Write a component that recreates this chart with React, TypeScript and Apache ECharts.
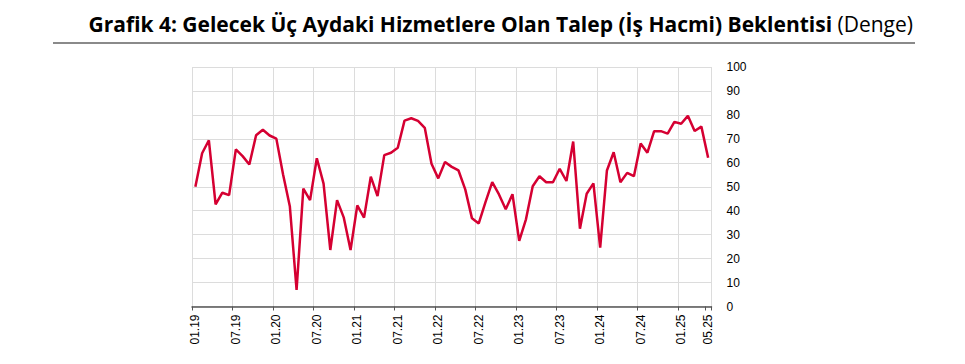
import React, { useEffect, useRef } from "react";
import * as echarts from "echarts";

const startYear = 2019;
const monthCount = 77;
const categories: string[] = Array.from({ length: monthCount }, (_, i) => {
  const y = startYear + Math.floor(i / 12);
  const m = (i % 12) + 1;
  return `${String(m).padStart(2, "0")}.${String(y % 100).padStart(2, "0")}`;
});

const balanceValues: number[] = [
  50, 64, 69.4, 42.6, 47.5, 46.5, 65.6, 62.8, 59.3, 71.5, 73.8, 71.4,
  70.1, 55.1, 41.9, 6.9, 49.2, 44.4, 61.9, 51.3, 23.6, 44.4, 37.1, 23.6,
  42.2, 37.1, 54.2, 46.1, 63.2, 64.2, 66.3, 77.6, 78.6, 77.5, 74.6, 59.6,
  53.5, 60.3, 58.3, 56.8, 48.9, 36.8, 34.7, 43.6, 51.9, 46.8, 40.6, 46.9,
  27.4, 36.4, 50.2, 54.4, 51.9, 51.9, 57.5, 52.4, 68.9, 32.5, 47.1, 51.4,
  24.6, 56.8, 64.4, 51.9, 55.8, 54.4, 68.1, 64.2, 73.2, 73.2, 72.2, 77.1,
  76.3, 79.6, 73.3, 75.1, 62.1,
];

const titleBold = "Grafik 4: Gelecek Üç Aydaki Hizmetlere Olan Talep (İş Hacmi) Beklentisi";
const titleNormal = " (Denge)";

export default function App() {
  const ref = useRef<HTMLDivElement>(null);
  useEffect(() => {
    if (!ref.current) return;
    const chart = echarts.init(ref.current, null, { renderer: "svg" });
    const lastIdx = categories.length - 1;
    chart.setOption({
      animation: false,
      title: {
        text: `{b|${titleBold}}{n|${titleNormal}}`,
        right: 52,
        top: 13,
        padding: 0,
        textStyle: {
          rich: {
            b: { fontFamily: "Open Sans", fontWeight: 700, fontSize: 21, color: "#000" },
            n: { fontFamily: "Open Sans", fontWeight: 400, fontSize: 21, color: "#000" },
          },
        },
      },
      graphic: [
        {
          type: "line",
          shape: { x1: 53, y1: 43, x2: 915, y2: 43 },
          style: { stroke: "#8a8a8a", lineWidth: 2 },
        },
      ],
      grid: { left: 192, right: 253.5, top: 67, bottom: 57.5 },
      xAxis: {
        type: "category",
        data: categories,
        boundaryGap: true,
        axisLine: { show: true, lineStyle: { color: "#555", width: 1.5 } },
        axisTick: {
          show: true,
          length: 4,
          interval: (i: number) => i % 6 === 0 || i === lastIdx,
          lineStyle: { color: "#555" },
        },
        axisLabel: {
          rotate: 90,
          margin: 8,
          fontFamily: "Liberation Sans",
          fontSize: 12,
          color: "#000",
          interval: (i: number) => i % 6 === 0 || i === lastIdx,
        },
        splitLine: {
          show: true,
          interval: (i: number) => i % 6 === 0,
          lineStyle: { color: "#dcdcdc", width: 1 },
        },
      },
      yAxis: {
        type: "value",
        position: "right",
        min: 0,
        max: 100,
        interval: 10,
        axisLine: { show: false },
        axisTick: { show: false },
        axisLabel: {
          margin: 15,
          fontFamily: "Liberation Sans",
          fontSize: 12,
          color: "#000",
        },
        splitLine: { show: true, lineStyle: { color: "#dcdcdc", width: 1 } },
      },
      series: [
        {
          type: "line",
          data: balanceValues,
          symbol: "none",
          lineStyle: { color: "#D50032", width: 2.5 },
          itemStyle: { color: "#D50032" },
        },
      ],
    });
    return () => chart.dispose();
  }, []);
  return (
    <div
      ref={ref}
      style={{ position: "absolute", left: 0, top: 0, width: 965, height: 364 }}
    />
  );
}
